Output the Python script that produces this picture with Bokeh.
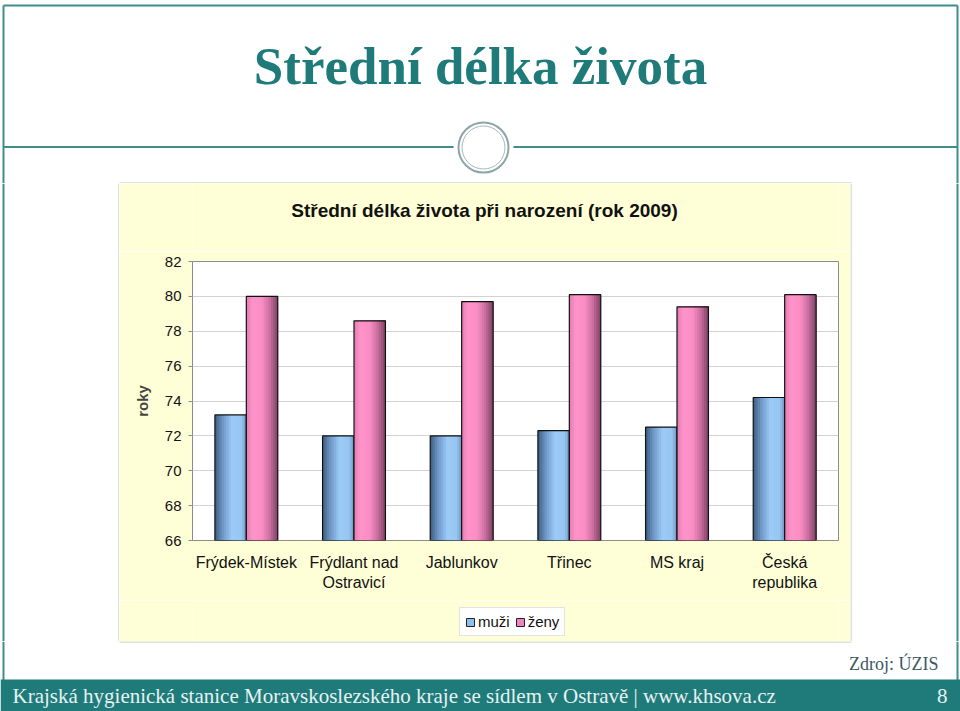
import numpy as np
from bokeh.plotting import figure
from bokeh.layouts import column, row
from bokeh.models import (ColumnDataSource, FactorRange, Range1d, FixedTicker,
                          Legend, LegendItem)
from bokeh.core.properties import value
from bokeh.transform import dodge
from bokeh.embed import file_html
from bokeh.resources import INLINE

# ---------------- data ----------------
categories = ["Frýdek-Místek", "Frýdlant nad\nOstravicí", "Jablunkov", "Třinec", "MS kraj", "Česká\nrepublika"]
muzi = [73.2, 72.0, 72.0, 72.3, 72.5, 74.2]
zeny = [80.0, 78.6, 79.7, 80.1, 79.4, 80.1]
y_ticks = [66, 68, 70, 72, 74, 76, 78, 80, 82]
series_names = ["muži", "ženy"]
slide_title = "Střední délka života"
chart_title = "Střední délka života při narození (rok 2009)"
y_label = "roky"
source_note = "Zdroj: ÚZIS"
footer_text = "Krajská hygienická stanice Moravskoslezského kraje se sídlem v Ostravě | www.khsova.cz"
page_no = "8"

# ---------------- page geometry (window pixels) ----------------
PW, PH = 960, 711
PX0, PX1, PY0, PY1 = 119, 850, 183, 641        # cream chart panel
FL, FR, FT, FB = 192, 838, 261, 540            # plot area
CT_Y1 = 251                                    # chart-title strip bottom
LG_Y0 = 600                                    # legend strip top

TEAL = "#1f7a7a"
LINE_TEAL = "#3f8d8d"
CREAM = "#ffffd7"
PANEL_EDGE = "#c2c2b6"
SANS = "Liberation Sans"
SERIF = "Liberation Serif"


def canvas_fig(x0, x1, y0, y1, bg="white", border_l=0, border_r=0):
    f = figure(width=x1 - x0, height=y1 - y0,
               x_range=Range1d(x0 + border_l, x1 - border_r), y_range=Range1d(y1, y0),
               output_backend="svg", toolbar_location=None, min_border=0,
               min_border_left=border_l, min_border_right=border_r,
               x_axis_location=None, y_axis_location=None)
    f.xgrid.visible = False
    f.ygrid.visible = False
    f.outline_line_color = None
    f.background_fill_color = bg
    f.border_fill_color = bg
    return f


def frame_lines(f, y_top, y_bot):
    f.segment(x0=[3, 957], y0=[y_top, y_top], x1=[3, 957], y1=[y_bot, y_bot],
              line_color=LINE_TEAL, line_width=2)


# ---------------- header ----------------
hdr = canvas_fig(0, PW, 0, PY0)
frame_lines(hdr, 5, PY0)
hdr.segment(x0=[3, 3], y0=[5, 146.5], x1=[957, 957], y1=[5, 146.5], line_color=LINE_TEAL, line_width=2)
hdr.segment(x0=[PX0], y0=[PY0 - 0.5], x1=[PX1 + 1], y1=[PY0 - 0.5], line_color=PANEL_EDGE, line_width=1)
hdr.ellipse(x=[483], y=[147], width=[60], height=[60], fill_color="white", line_color=None)
hdr.ellipse(x=[483], y=[147], width=[50], height=[50], fill_color=None, line_color="#8ea5a7", line_width=2)
hdr.ellipse(x=[483], y=[147], width=[43], height=[43], fill_color=None, line_color="#a4b7b9", line_width=1)
hdr.text(x=[480], y=[65], text=[slide_title], text_font=value(SERIF), text_font_size="53px",
         text_font_style="bold", text_color=TEAL, text_align="center", text_baseline="middle")

# ---------------- side strips ----------------
lft = canvas_fig(0, PX0, PY0, PY1)
frame_lines(lft, PY0, PY1)
lft.segment(x0=[PX0 - 0.5], y0=[PY0], x1=[PX0 - 0.5], y1=[PY1], line_color=PANEL_EDGE, line_width=1)

rgt = canvas_fig(PX1, PW, PY0, PY1)
frame_lines(rgt, PY0, PY1)
rgt.segment(x0=[PX1 + 0.5], y0=[PY0], x1=[PX1 + 0.5], y1=[PY1], line_color=PANEL_EDGE, line_width=1)

# ---------------- chart title strip ----------------
ctl = canvas_fig(PX0, PX1, PY0, CT_Y1, CREAM, FL - PX0, PX1 - FR)
ctl.text(x=[484], y=[210], text=[chart_title], text_font=value(SANS), text_font_size="19px",
         text_font_style="bold", text_color="#111111", text_align="center", text_baseline="middle")

# ---------------- chart ----------------
src = ColumnDataSource(dict(cat=categories, muzi=muzi, zeny=zeny))
p = figure(width=PX1 - PX0, height=LG_Y0 - CT_Y1, x_range=FactorRange(*categories),
           y_range=Range1d(y_ticks[0], y_ticks[-1]),
           output_backend="svg", toolbar_location=None,
           min_border_left=FL - PX0, min_border_right=PX1 - FR,
           min_border_top=FT - CT_Y1, min_border_bottom=LG_Y0 - FB)
p.border_fill_color = CREAM
p.background_fill_color = "white"
p.outline_line_color = "#8c8c8c"

bar_w = 0.292


def lerp_color(stops, t):
    pos = [s[0] for s in stops]
    cols = [tuple(int(s[1][i:i + 2], 16) for i in (1, 3, 5)) for s in stops]
    for k in range(len(pos) - 1):
        if pos[k] <= t <= pos[k + 1]:
            f = (t - pos[k]) / (pos[k + 1] - pos[k])
            c = [round(cols[k][j] + f * (cols[k + 1][j] - cols[k][j])) for j in range(3)]
            return "#%02x%02x%02x" % tuple(c)
    return stops[-1][1]


grad = {
    "muzi": [(0, "#3d5b80"), (0.25, "#6f97c6"), (0.55, "#9ccbf8"), (0.85, "#96c5f2"), (1, "#6e93bb")],
    "zeny": [(0, "#e07cb0"), (0.2, "#ff93ca"), (0.5, "#f98dc4"), (0.75, "#c96e9f"), (1, "#7c4262")],
}
mid = {"muzi": "#8fbfee", "zeny": "#ee86bc"}
N = 14
for field, start in [("muzi", -bar_w), ("zeny", 0.0)]:
    dw = bar_w / N
    for i in range(N):
        left = start + i * dw
        right = start + bar_w
        col = lerp_color(grad[field], (i + 0.5) / N)
        p.vbar(x=dodge("cat", (left + right) / 2, range=p.x_range), top=field, bottom=y_ticks[0],
               width=right - left, source=src, fill_color=col, line_color=None)
    p.vbar(x=dodge("cat", start + bar_w / 2, range=p.x_range), top=field, bottom=y_ticks[0],
           width=bar_w, source=src, fill_color=None, line_color="#111111", line_width=1.2)

p.xgrid.grid_line_color = None
p.ygrid.grid_line_color = "#d2d2d2"
p.ygrid.ticker = FixedTicker(ticks=y_ticks)
p.yaxis.ticker = FixedTicker(ticks=y_ticks)
p.yaxis.axis_label = y_label
p.yaxis.axis_label_text_font = SANS
p.yaxis.axis_label_text_font_style = "bold"
p.yaxis.axis_label_text_font_size = "15px"
p.yaxis.axis_label_standoff = 11
p.yaxis.major_label_text_font = SANS
p.yaxis.major_label_text_font_size = "15px"
p.yaxis.major_label_text_color = "#111111"
p.yaxis.major_label_standoff = 7
p.yaxis.axis_line_color = None
p.yaxis.major_tick_line_color = "#8c8c8c"
p.yaxis.major_tick_out = 4
p.yaxis.major_tick_in = 0
p.yaxis.minor_tick_line_color = None

p.xaxis.major_label_text_font = SANS
p.xaxis.major_label_text_font_size = "16px"
p.xaxis.major_label_text_color = "#111111"
p.xaxis.major_label_standoff = 7
p.xaxis.axis_line_color = None
p.xaxis.major_tick_line_color = None
p.xaxis.major_label_orientation = "horizontal"

# ---------------- legend strip ----------------
lg = canvas_fig(PX0, PX1, LG_Y0, PY1, CREAM, FL - PX0, PX1 - FR)
proxies = []
for field in ["muzi", "zeny"]:
    # legend proxy glyphs (NaN position: never drawn in the strip itself)
    proxies.append(lg.rect(x=[np.nan], y=[np.nan], width=1, height=1, fill_color=mid[field],
                           line_color="#222222", line_width=1))
legend = Legend(items=[LegendItem(label=series_names[i], renderers=[proxies[i]]) for i in range(2)],
                orientation="horizontal", location=(459 - FL, PY1 - 636),
                background_fill_color="white", background_fill_alpha=1,
                border_line_color="#c8c8c8", label_text_font=SANS,
                label_text_font_size="15px", label_text_color="#111111",
                glyph_width=10, glyph_height=10, label_standoff=3, spacing=5,
                padding=5, margin=0, label_height=16)
lg.add_layout(legend)

# ---------------- footer ----------------
ftr = canvas_fig(0, PW, PY1, PH)
frame_lines(ftr, PY1, 680)
ftr.segment(x0=[PX0], y0=[PY1 + 0.5], x1=[PX1 + 1], y1=[PY1 + 0.5], line_color=PANEL_EDGE, line_width=1)
ftr.quad(left=[0], right=[PW], top=[679], bottom=[PH], fill_color=TEAL, line_color=None)
ftr.text(x=[938], y=[663], text=[source_note], text_font=value(SERIF), text_font_size="18px",
         text_color="#3a5864", text_align="right", text_baseline="middle")
ftr.text(x=[12, 947], y=[695, 695], text=[footer_text, page_no], text_font=value(SERIF),
         text_font_size="21px", text_color="#e6f2f2", text_align=["left", "right"],
         text_baseline="middle")

page = column(hdr, row(lft, column(ctl, p, lg), rgt), ftr)

with open("out.html", "w") as f:
    f.write(file_html(page, INLINE))
